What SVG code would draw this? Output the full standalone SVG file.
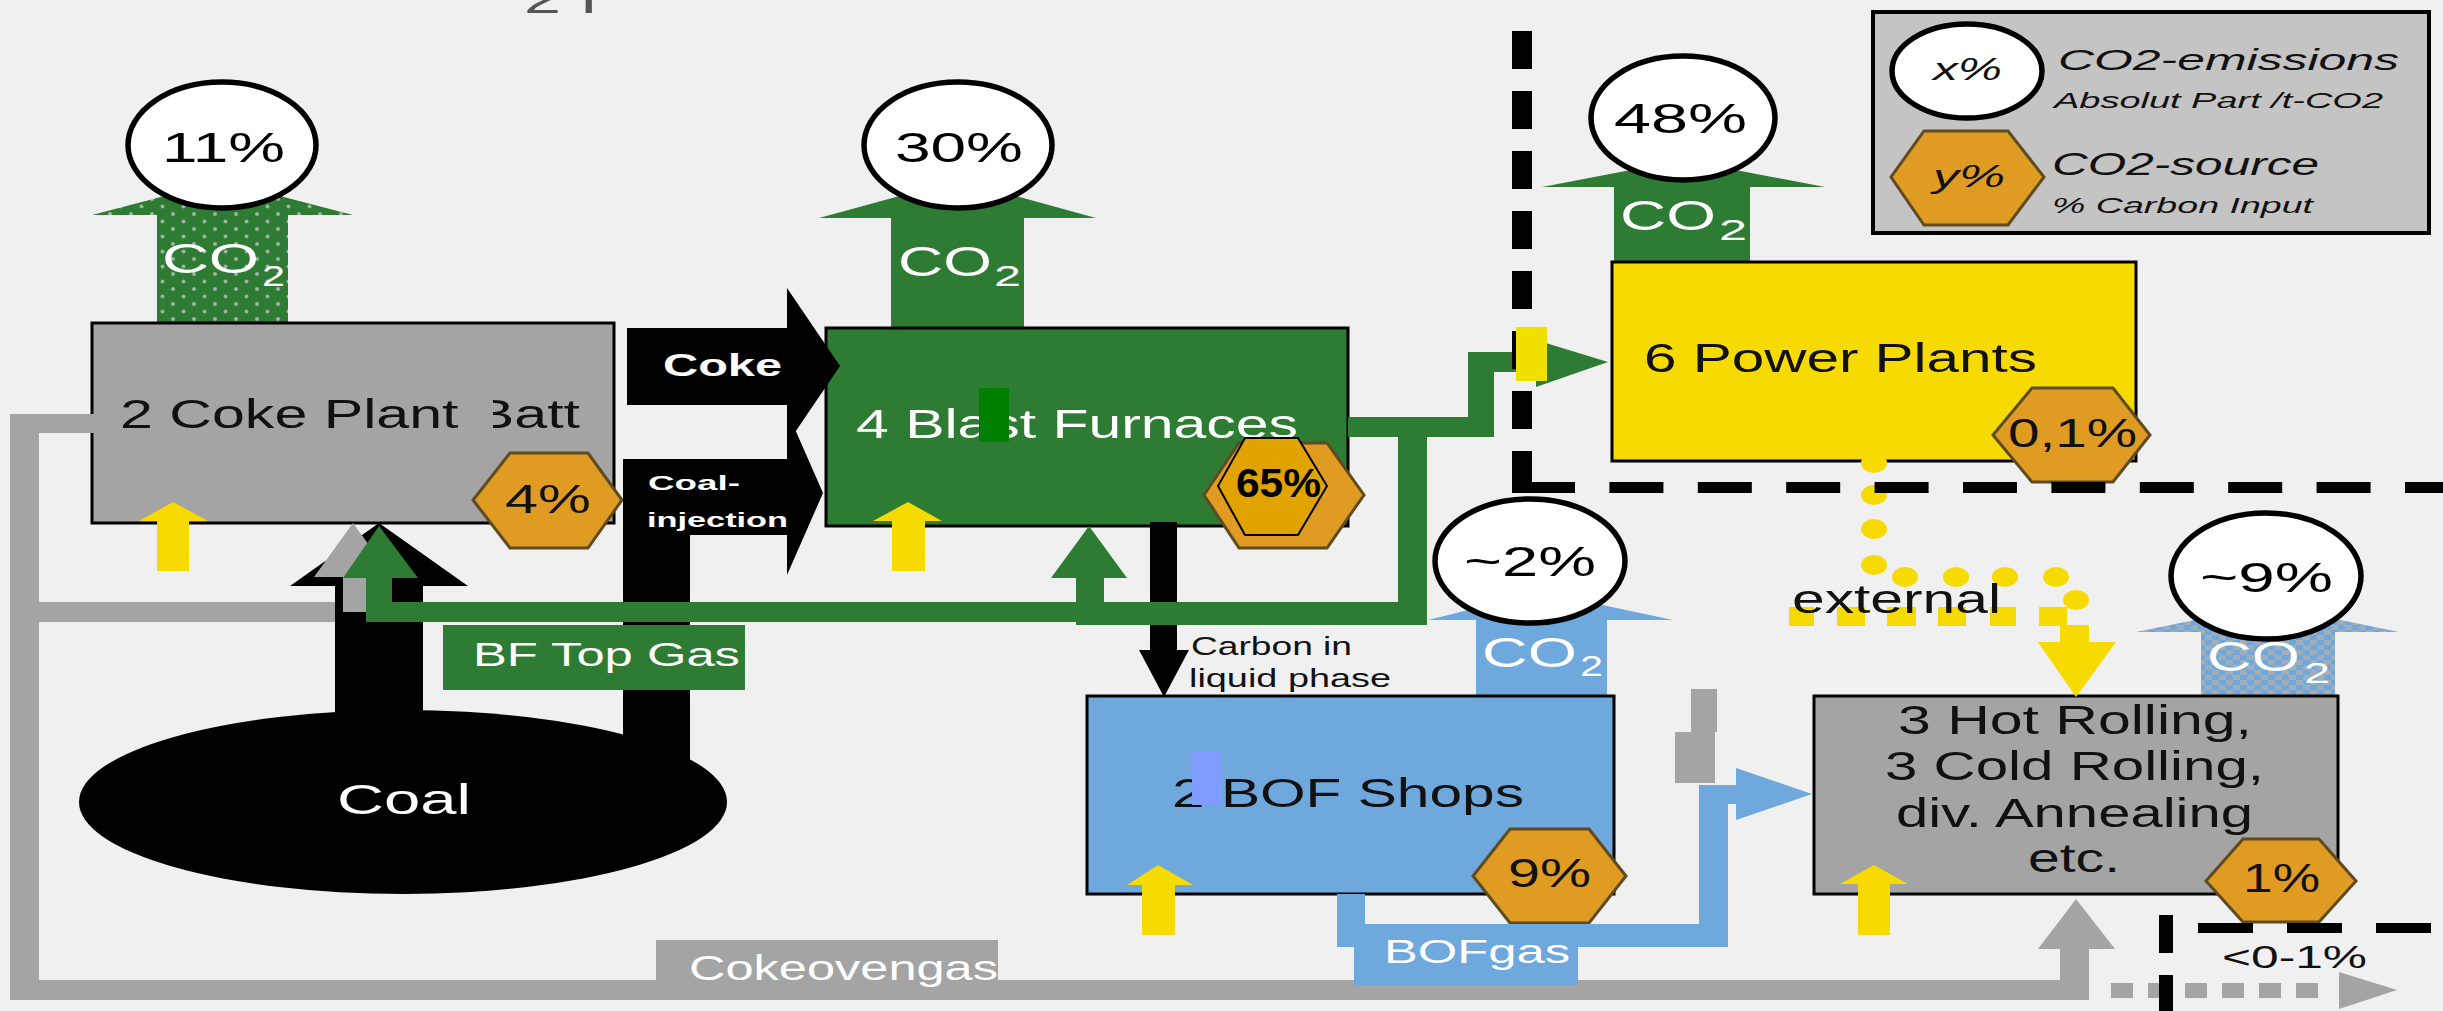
<svg xmlns="http://www.w3.org/2000/svg" width="2443" height="1011" viewBox="0 0 2443 1011">
<defs>
<style>
text{font-family:"Liberation Sans",Arial,sans-serif}
.w{fill:#fff}.k{fill:#111}
.hex{fill:#df9b22;stroke:#5e4b1f;stroke-width:3}
.circ{fill:#fff;stroke:#000;stroke-width:5.5}
.box{stroke:#000;stroke-width:3}
.yl{fill:#f7da00}.gr{fill:#2e7b34}.gy{fill:#a4a4a4}.bl{fill:#6fa8dc}.blk{fill:#000}
.f40{font-size:40px}.f43{font-size:43px}.f30{font-size:30px}
</style>
<pattern id="dots" width="21" height="15" patternUnits="userSpaceOnUse"><rect width="21" height="15" fill="#2e7b34"/><circle cx="5" cy="4" r="2" fill="#9db39f"/><circle cx="15.5" cy="11.5" r="2" fill="#9db39f"/></pattern>
<pattern id="chk" width="14" height="10" patternUnits="userSpaceOnUse"><rect width="14" height="10" fill="#6fa8dc"/><rect width="7" height="5" fill="#a0aebb"/><rect x="7" y="5" width="7" height="5" fill="#a0aebb"/></pattern>
</defs>
<rect width="2443" height="1011" fill="#f0f0f0"/>
<text x="524" y="13" class="f40" fill="#555" textLength="74" lengthAdjust="spacingAndGlyphs">2 I</text>

<g id="coke-plant">
<polygon points="157,323 157,215 92,215 222,181 353,215 288,215 288,323" fill="url(#dots)"/>
<text x="162" y="273" class="w f43" textLength="97" lengthAdjust="spacingAndGlyphs">CO</text>
<text x="262" y="286" class="w f30" textLength="23" lengthAdjust="spacingAndGlyphs">2</text>
<ellipse cx="222" cy="145" rx="94" ry="63" class="circ"/>
<text x="162" y="162" class="f43" textLength="123" lengthAdjust="spacingAndGlyphs">11%</text>
<rect x="92" y="323" width="522" height="200" fill="#a4a4a4" class="box"/>
<text x="120" y="428" class="k f40" textLength="460" lengthAdjust="spacingAndGlyphs">2 Coke Plant Batt</text>
<rect x="468" y="394" width="25" height="40" fill="#a4a4a4"/>
<polygon points="510,453 588,453 622,500 588,548 510,548 473,500" class="hex"/>
<text x="505" y="513" class="k f40" textLength="86" lengthAdjust="spacingAndGlyphs">4%</text>
<polygon points="173,502 208,521 189,521 189,571 157,571 157,521 139,521" class="yl"/>
</g>

<g id="blast-furnaces">
<polygon points="891,328 891,218 819,218 958,180 1096,218 1024,218 1024,328" class="gr"/>
<text x="898" y="276" class="w f43" textLength="94" lengthAdjust="spacingAndGlyphs">CO</text>
<text x="994" y="286" class="w f30" textLength="27" lengthAdjust="spacingAndGlyphs">2</text>
<ellipse cx="958" cy="145" rx="94" ry="63" class="circ"/>
<text x="895" y="162" class="f43" textLength="128" lengthAdjust="spacingAndGlyphs">30%</text>
<rect x="826" y="328" width="522" height="198" fill="#2e7b34" class="box"/>
<text x="856" y="438" class="w f40" textLength="442" lengthAdjust="spacingAndGlyphs">4 Blast Furnaces</text>
<rect x="979" y="388" width="30" height="54" fill="#008000"/>
<polygon points="1239,443 1327,443 1364,495 1327,548 1239,548 1204,495" class="hex"/>
<polygon points="1245,438 1298,438 1327,486 1298,535 1245,535 1218,486" fill="#e0a300" stroke="#000" stroke-width="2"/>
<text x="1236" y="497" class="f40" font-weight="bold" textLength="85" lengthAdjust="spacingAndGlyphs">65%</text>
<polygon points="908,502 942,521 925,521 925,571 892,571 892,521 873,521" class="yl"/>
</g>

<g id="power-plants">
<polygon points="1614,262 1614,187 1542,187 1683,160 1825,187 1750,187 1750,262" class="gr"/>
<text x="1620" y="230" class="w f43" textLength="96" lengthAdjust="spacingAndGlyphs">CO</text>
<text x="1719" y="240" class="w f30" textLength="28" lengthAdjust="spacingAndGlyphs">2</text>
<ellipse cx="1683" cy="118" rx="92" ry="62" class="circ"/>
<text x="1614" y="133" class="f43" textLength="133" lengthAdjust="spacingAndGlyphs">48%</text>
<rect x="1612" y="262" width="524" height="199" fill="#f7da00" class="box"/>
<text x="1644" y="372" class="k f40" textLength="393" lengthAdjust="spacingAndGlyphs">6 Power Plants</text>
<polygon points="2032,388 2113,388 2150,435 2113,482 2032,482 1993,435" class="hex"/>
<text x="2008" y="447" class="k f40" textLength="129" lengthAdjust="spacingAndGlyphs">0,1%</text>
</g>

<g id="bof-shops">
<polygon points="1476,696 1476,620 1428,620 1541,592 1673,620 1607,620 1607,696" class="bl"/>
<text x="1482" y="667" class="w f43" textLength="95" lengthAdjust="spacingAndGlyphs">CO</text>
<text x="1580" y="676" class="w f30" textLength="23" lengthAdjust="spacingAndGlyphs">2</text>
<ellipse cx="1530" cy="561" rx="95" ry="62" class="circ"/>
<text x="1464" y="576" class="f43" textLength="132" lengthAdjust="spacingAndGlyphs">~2%</text>
<rect x="1087" y="696" width="527" height="198" fill="#6fa8dc" class="box"/>
<text x="1172" y="807" class="k f40" textLength="352" lengthAdjust="spacingAndGlyphs">2 BOF Shops</text>
<rect x="1192" y="751" width="30" height="54" fill="#7f9cff"/>
<polygon points="1510,829 1589,829 1626,876 1589,923 1510,923 1473,876" class="hex"/>
<text x="1508" y="887" class="k f40" textLength="83" lengthAdjust="spacingAndGlyphs">9%</text>
<polygon points="1158,865 1193,885 1175,885 1175,935 1142,935 1142,885 1127,885" class="yl"/>
</g>

<g id="rolling">
<polygon points="2201,696 2201,632 2136,632 2268,605 2399,632 2335,632 2335,696" fill="url(#chk)"/>
<text x="2207" y="671" class="w f43" textLength="93" lengthAdjust="spacingAndGlyphs">CO</text>
<text x="2304" y="683" class="w f30" textLength="26" lengthAdjust="spacingAndGlyphs">2</text>
<ellipse cx="2266" cy="576" rx="95" ry="63" class="circ"/>
<text x="2200" y="592" class="f43" textLength="133" lengthAdjust="spacingAndGlyphs">~9%</text>
<rect x="1814" y="696" width="524" height="198" fill="#a4a4a4" class="box"/>
<text x="1898" y="734" class="k f40" textLength="354" lengthAdjust="spacingAndGlyphs">3 Hot Rolling,</text>
<text x="1885" y="780" class="k f40" textLength="379" lengthAdjust="spacingAndGlyphs">3 Cold Rolling,</text>
<text x="1896" y="827" class="k f40" textLength="357" lengthAdjust="spacingAndGlyphs">div. Annealing</text>
<text x="2028" y="872" class="k f40" textLength="92" lengthAdjust="spacingAndGlyphs">etc.</text>
<polygon points="2243,839 2319,839 2356,881 2319,922 2243,922 2206,881" class="hex"/>
<text x="2243" y="892" class="k f40" textLength="77" lengthAdjust="spacingAndGlyphs">1%</text>
<polygon points="1874,865 1908,884 1890,884 1890,935 1858,935 1858,884 1840,884" class="yl"/>
</g>

<g id="coal">
<ellipse cx="403" cy="802" rx="324" ry="92" fill="#000"/>
<text x="337" y="814" class="w f43" textLength="134" lengthAdjust="spacingAndGlyphs">Coal</text>
</g>

<g id="connectors">
<!-- gray coke oven gas -->
<rect x="10" y="414" width="84" height="19" class="gy"/>
<rect x="10" y="414" width="29" height="586" class="gy"/>
<rect x="10" y="602" width="356" height="20" class="gy"/>
<rect x="10" y="980" width="2079" height="20" class="gy"/>
<rect x="656" y="940" width="342" height="60" class="gy"/>
<text x="689" y="980" class="w" font-size="35" textLength="309" lengthAdjust="spacingAndGlyphs">Cokeovengas</text>
<polygon points="2060,1000 2060,949 2038,949 2076,899 2115,949 2089,949 2089,1000" class="gy"/>
<line x1="2111" y1="990.5" x2="2330" y2="990.5" stroke="#a4a4a4" stroke-width="15" stroke-dasharray="22 15"/>
<polygon points="2339,972 2397,990 2339,1009" class="gy"/>
<rect x="1691" y="689" width="26" height="43" class="gy"/>
<rect x="1675" y="732" width="40" height="51" class="gy"/>
<!-- coal arrows -->
<polygon points="335,720 335,586 290,586 379,523 468,586 423,586 423,720" class="blk"/>
<polygon points="343,612 343,577 314,577 353,523 392,577 366,577 366,612" class="gy"/>
<polygon points="623,760 623,459 787,459 787,411 823,493 787,575 787,535 690,535 690,760" class="blk"/>
<text x="648" y="490" class="w" font-size="21" font-weight="bold" textLength="92" lengthAdjust="spacingAndGlyphs">Coal-</text>
<text x="647" y="527" class="w" font-size="21" font-weight="bold" textLength="141" lengthAdjust="spacingAndGlyphs">injection</text>
<polygon points="627,328 787,328 787,288 840,366 787,444 787,405 627,405" class="blk"/>
<text x="663" y="376" class="w" font-size="32" font-weight="bold" textLength="119" lengthAdjust="spacingAndGlyphs">Coke</text>
<!-- carbon in liquid phase -->
<rect x="1150" y="522" width="27" height="128" class="blk"/>
<polygon points="1139,650 1189,650 1164,697" class="blk"/>
<text x="1191" y="655" class="k" font-size="25" textLength="161" lengthAdjust="spacingAndGlyphs">Carbon in</text>
<text x="1189" y="687" class="k" font-size="25" textLength="202" lengthAdjust="spacingAndGlyphs">liquid phase</text>
<!-- BF top gas -->
<polygon points="366,612 366,578 343,578 379,526 418,578 392,578 392,612" class="gr"/>
<rect x="366" y="602" width="1061" height="20" class="gr"/>
<rect x="1076" y="602" width="351" height="23" class="gr"/>
<polygon points="1076,625 1076,578 1051,578 1089,526 1127,578 1104,578 1104,625" class="gr"/>
<rect x="1398" y="417" width="29" height="205" class="gr"/>
<rect x="1348" y="417" width="146" height="20" class="gr"/>
<rect x="1468" y="352" width="26" height="85" class="gr"/>
<rect x="1468" y="352" width="70" height="20" class="gr"/>
<polygon points="1536,340 1608,362 1536,387" class="gr"/>
<rect x="443" y="625" width="302" height="65" class="gr"/>
<text x="473" y="666" class="w" font-size="34" textLength="267" lengthAdjust="spacingAndGlyphs">BF Top Gas</text>
<!-- BOF gas -->
<rect x="1337" y="894" width="28" height="53" class="bl"/>
<rect x="1337" y="924" width="391" height="23" class="bl"/>
<rect x="1699" y="785" width="29" height="162" class="bl"/>
<rect x="1699" y="785" width="41" height="19" class="bl"/>
<polygon points="1736,768 1812,794 1736,820" class="bl"/>
<rect x="1354" y="947" width="224" height="38" class="bl"/>
<text x="1384" y="963" class="w" font-size="33" textLength="186" lengthAdjust="spacingAndGlyphs">BOFgas</text>
<!-- external power -->
<g class="yl">
<ellipse cx="1874" cy="463" rx="13" ry="10"/>
<ellipse cx="1874" cy="495" rx="13" ry="10"/>
<ellipse cx="1874" cy="529" rx="13" ry="10"/>
<ellipse cx="1874" cy="565" rx="13" ry="10"/>
<ellipse cx="1905" cy="577" rx="13" ry="10"/>
<ellipse cx="1956" cy="577" rx="13" ry="10"/>
<ellipse cx="2005" cy="577" rx="13" ry="10"/>
<ellipse cx="2056" cy="577" rx="13" ry="10"/>
<ellipse cx="2076" cy="600" rx="13" ry="10"/>
<rect x="1789" y="607" width="25" height="19"/>
<rect x="1837" y="607" width="28" height="19"/>
<rect x="1887" y="607" width="29" height="19"/>
<rect x="1938" y="607" width="28" height="19"/>
<rect x="1990" y="607" width="26" height="19"/>
<rect x="2039" y="607" width="28" height="19"/>
<rect x="2060" y="625" width="29" height="18"/>
<polygon points="2038,642 2116,642 2076,697"/>
</g>
<text x="1792" y="613" class="k f40" textLength="209" lengthAdjust="spacingAndGlyphs">external</text>
<text x="2222" y="968" class="k" font-size="31" textLength="145" lengthAdjust="spacingAndGlyphs">&lt;0-1%</text>
</g>

<g id="boundaries" stroke="#000" fill="none">
<line x1="1522" y1="31" x2="1522" y2="489" stroke-width="20" stroke-dasharray="38 22"/>
<line x1="1512" y1="487.5" x2="2443" y2="487.5" stroke-width="11" stroke-dasharray="63 34.4 54 34.4 54 34.4 54 34.4 54 34.4 54 34.4 54 34.4 54 34.4 54 34.4 54 34.4 54 34.4"/>
<line x1="2166" y1="915" x2="2166" y2="1011" stroke-width="14" stroke-dasharray="38 22"/>
<line x1="2198" y1="928" x2="2443" y2="928" stroke-width="10" stroke-dasharray="55 34"/>
</g>
<rect x="1516" y="327" width="31" height="54" fill="#f0e000"/>

<g id="legend">
<rect x="1873" y="12" width="556" height="221" fill="#c4c4c4" stroke="#000" stroke-width="4"/>
<ellipse cx="1967" cy="71" rx="75" ry="47" class="circ"/>
<text x="1933" y="80" font-size="32" font-style="italic" class="k" textLength="69" lengthAdjust="spacingAndGlyphs">x%</text>
<text x="2058" y="70" font-size="30" font-style="italic" class="k" textLength="341" lengthAdjust="spacingAndGlyphs">CO2-emissions</text>
<text x="2054" y="108" font-size="22" font-style="italic" class="k" textLength="329" lengthAdjust="spacingAndGlyphs">Absolut Part /t-CO2</text>
<polygon points="1924,131 2008,131 2044,177 2008,225 1924,225 1891,177" class="hex"/>
<text x="1933" y="187" font-size="32" font-style="italic" class="k" textLength="72" lengthAdjust="spacingAndGlyphs">y%</text>
<text x="2052" y="175" font-size="31" font-style="italic" class="k" textLength="267" lengthAdjust="spacingAndGlyphs">CO2-source</text>
<text x="2052" y="213" font-size="22" font-style="italic" class="k" textLength="261" lengthAdjust="spacingAndGlyphs">% Carbon Input</text>
</g>
</svg>
